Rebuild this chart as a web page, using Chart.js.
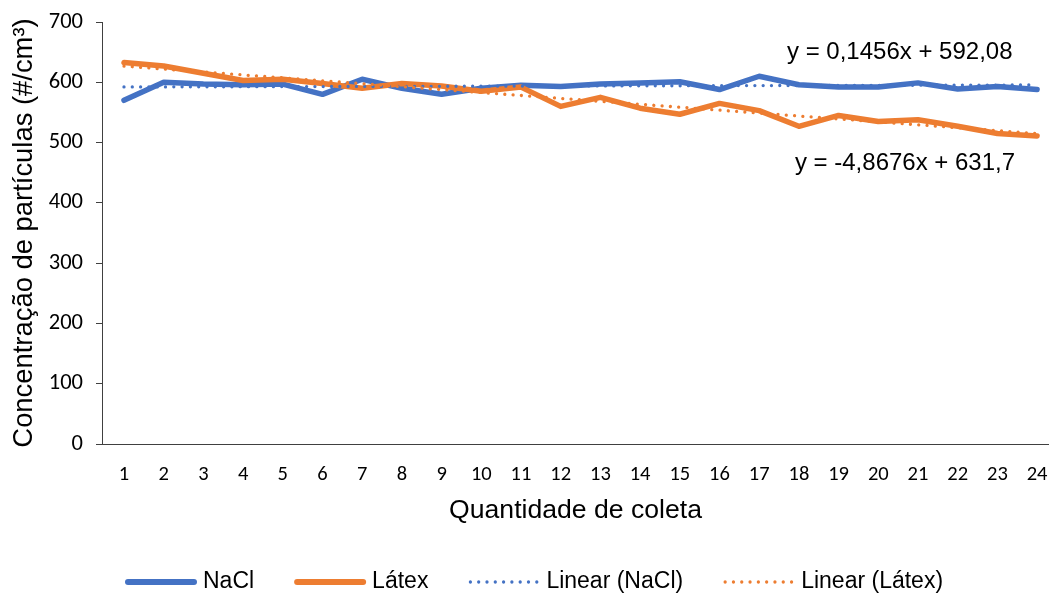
<!DOCTYPE html>
<html>
<head>
<meta charset="utf-8">
<script src="https://cdn.jsdelivr.net/npm/chart.js@4.4.1/dist/chart.umd.min.js"></script>
<style>
  html, body { margin: 0; padding: 0; background: #ffffff; overflow: hidden; }
  canvas { display: block; }
</style>
</head>
<body>
<canvas id="chart" width="1049" height="594"></canvas>
<script>
// Coleta number on the x axis
const categories = ['1','2','3','4','5','6','7','8','9','10','11','12',
                    '13','14','15','16','17','18','19','20','21','22','23','24'];

// Particle concentration (#/cm³) per coleta
const naclValues  = [570, 600, 597, 596, 597, 580, 605, 590, 580, 590, 595, 593,
                     597, 599, 601, 588, 610, 596, 592, 592, 599, 589, 593, 588];
const latexValues = [633, 627, 615, 603, 605, 598, 590, 598, 594, 585, 592, 560,
                     575, 557, 547, 565, 553, 527, 545, 535, 538, 527, 515, 511];

// Linear trend coefficients [slope, intercept]
const naclTrend  = [0.1456, 592.08];
const latexTrend = [-4.8676, 631.7];

// Trend equations as printed
const trendLabels = ['y = 0,1456x + 592,08', 'y = -4,8676x + 631,7'];

const yTicks = [0, 100, 200, 300, 400, 500, 600, 700];
const seriesNames = ['NaCl', 'Látex', 'Linear (NaCl)', 'Linear (Látex)'];

const BLUE = '#4472C4';
const ORANGE = '#ED7D31';
const AXIS = '#404040';
const TEXT = '#000000';
const SANS = '"Liberation Sans", Arial, sans-serif';
const TICKFONT = 'Carlito, Lato, "Open Sans", sans-serif';

const xs = categories.map(c => Number(c));
const points = vals => vals.map((v, i) => ({ x: xs[i], y: v }));
const trendPoints = coef => xs.map(x => ({ x: x, y: coef[0] * x + coef[1] }));

// Trend equation text, anchored in data coordinates
const equationPlugin = {
  id: 'equations',
  afterDatasetsDraw(chart, args, opts) {
    const { ctx, scales: { x, y } } = chart;
    ctx.save();
    ctx.font = '24px ' + SANS;
    ctx.fillStyle = TEXT;
    ctx.textAlign = 'left';
    ctx.textBaseline = 'middle';
    opts.anchors.forEach((a, i) => {
      ctx.fillText(trendLabels[i], x.getPixelForValue(a[0]), y.getPixelForValue(a[1]));
    });
    ctx.restore();
  }
};

// Legend row under the axis title
const legendPlugin = {
  id: 'bottomLegend',
  afterDraw(chart, args, opts) {
    const { ctx } = chart;
    const ds = chart.data.datasets;
    ctx.save();
    ctx.font = '23px ' + SANS;
    ctx.textBaseline = 'middle';
    ctx.textAlign = 'left';
    let cx = opts.startX;
    const cy = opts.y;
    ds.forEach(d => {
      ctx.save();
      ctx.strokeStyle = d.borderColor;
      ctx.lineCap = 'round';
      if (d.borderDash && d.borderDash.length) {
        ctx.lineWidth = d.borderWidth;
        ctx.setLineDash(d.borderDash);
        ctx.beginPath();
        ctx.moveTo(cx + 2, cy);
        ctx.lineTo(cx + opts.sample - 2, cy);
        ctx.stroke();
      } else {
        ctx.lineWidth = 6;
        ctx.beginPath();
        ctx.moveTo(cx + 3, cy);
        ctx.lineTo(cx + opts.sample - 3, cy);
        ctx.stroke();
      }
      ctx.restore();
      ctx.fillStyle = TEXT;
      const tx = cx + opts.sample + opts.textGap;
      ctx.fillText(d.label, tx, cy);
      cx = tx + ctx.measureText(d.label).width + opts.itemGap;
    });
    ctx.restore();
  }
};

new Chart(document.getElementById('chart'), {
  type: 'line',
  data: {
    datasets: [
      { label: seriesNames[0], data: points(naclValues), borderColor: BLUE, backgroundColor: BLUE,
        borderWidth: 5.5, order: 3 },
      { label: seriesNames[1], data: points(latexValues), borderColor: ORANGE, backgroundColor: ORANGE,
        borderWidth: 5.5, order: 2 },
      { label: seriesNames[2], data: trendPoints(naclTrend), borderColor: BLUE, backgroundColor: BLUE,
        borderWidth: 3.3, borderDash: [0.001, 8.3], order: 1 },
      { label: seriesNames[3], data: trendPoints(latexTrend), borderColor: ORANGE, backgroundColor: ORANGE,
        borderWidth: 3.3, borderDash: [0.001, 8.3], order: 0 }
    ]
  },
  options: {
    responsive: false,
    animation: false,
    devicePixelRatio: 1,
    elements: {
      line: { tension: 0, borderCapStyle: 'round', borderJoinStyle: 'round', fill: false },
      point: { radius: 0, hoverRadius: 0 }
    },
    layout: { padding: { top: 22, right: 0, bottom: 60, left: 0 } },
    plugins: {
      legend: { display: false },
      tooltip: { enabled: false },
      equations: { anchors: [[17.7, 650], [17.9, 466]] },
      bottomLegend: { startX: 125, y: 582, sample: 72, textGap: 6, itemGap: 40 }
    },
    scales: {
      x: {
        type: 'linear',
        min: 0.446,
        max: 24.3,
        grid: { display: true, drawOnChartArea: false, drawTicks: false, tickLength: 0 },
        border: { display: true, color: AXIS, width: 1 },
        ticks: {
          stepSize: 1,
          includeBounds: false,
          autoSkip: false,
          maxRotation: 0,
          padding: 19,
          color: TEXT,
          font: { family: TICKFONT, size: 20.5 },
          callback: v => categories[v - 1]
        },
        title: {
          display: true,
          text: 'Quantidade de coleta',
          color: TEXT,
          font: { family: SANS, size: 26.6 },
          padding: { top: 0, bottom: 7 }
        },
        afterFit(s) { s.height = 90; s.paddingLeft = 0; s.paddingRight = 0; }
      },
      y: {
        min: 0,
        max: 700,
        grid: { display: true, drawOnChartArea: false, drawTicks: true, tickLength: 6, color: AXIS },
        border: { display: true, color: AXIS, width: 1 },
        afterBuildTicks(s) { s.ticks = yTicks.map(v => ({ value: v })); },
        ticks: {
          padding: 13,
          color: TEXT,
          font: { family: TICKFONT, size: 22.5 }
        },
        title: {
          display: true,
          text: 'Concentração de partículas (#/cm³)',
          color: TEXT,
          font: { family: SANS, size: 27.4 },
          padding: { top: 8, bottom: 0 }
        },
        afterFit(s) { s.width = 102; s.paddingTop = 0; s.paddingBottom = 0; }
      }
    }
  },
  plugins: [equationPlugin, legendPlugin]
});
</script>
</body>
</html>
